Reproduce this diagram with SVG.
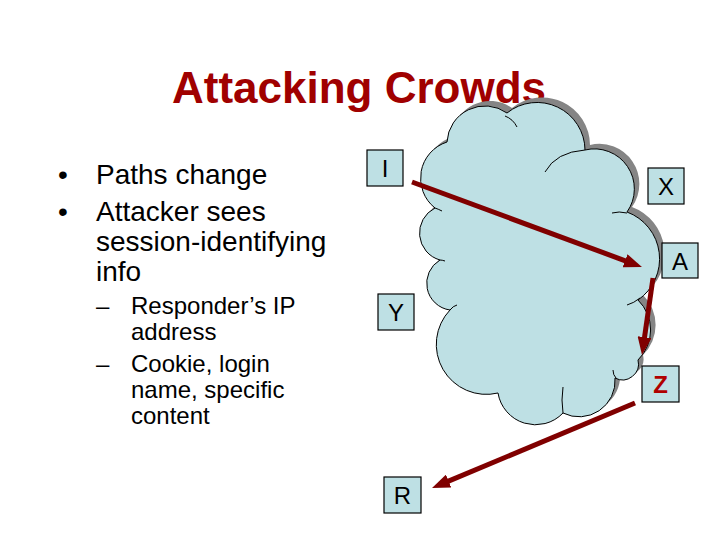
<svg xmlns="http://www.w3.org/2000/svg" width="720" height="540" viewBox="0 0 720 540">
<style>
.t{font-family:"Liberation Sans",Arial,sans-serif;fill:#000}
.main{font-size:28px}
.sub{font-size:24px}
.box{fill:#BEE0E4;stroke:#000;stroke-width:1.2}
.lbl{font-family:"Liberation Sans",Arial,sans-serif;font-size:24px;text-anchor:middle}
.arr{stroke:#800000;stroke-width:5;fill:none}
.inner{fill:none;stroke:#000;stroke-width:1}
</style>
<defs>
<marker id="ah" markerUnits="userSpaceOnUse" markerWidth="18" markerHeight="14" refX="6" refY="7" orient="auto">
<path d="M0,0 L18,7 L0,14 z" fill="#800000"/>
</marker>
<path id="cloudShape" d="M447,142 A38,38 0 0 1 507,113 A48,48 0 0 1 585,150 A40,40 0 0 1 627,212 A50,50 0 0 1 638,300 A42,42 0 0 1 638,360 A16,16 0 0 1 615,378 A36,36 0 0 1 563,413 A38,38 0 0 1 498,393 A50,50 0 0 1 450,310 A27,27 0 0 1 440,260 A28,28 0 0 1 435,208 A38,38 0 0 1 447,142 Z"/>
</defs>
<rect width="720" height="540" fill="#fff"/>
<text x="359" y="103" text-anchor="middle" style="font-family:'Liberation Sans',Arial,sans-serif;font-size:44px;font-weight:bold;fill:#A00000">Attacking Crowds</text>
<g id="bullets">
<text class="t main" x="58" y="184">•</text>
<text class="t main" x="96" y="184">Paths change</text>
<text class="t main" x="58" y="221">•</text>
<text class="t main" x="96" y="221">Attacker sees</text>
<text class="t main" x="96" y="251">session-identifying</text>
<text class="t main" x="96" y="281">info</text>
<text class="t sub" x="96" y="314">–</text>
<text class="t sub" x="131" y="314">Responder’s IP</text>
<text class="t sub" x="131" y="340">address</text>
<text class="t sub" x="96" y="372">–</text>
<text class="t sub" x="131" y="372">Cookie, login</text>
<text class="t sub" x="131" y="398">name, specific</text>
<text class="t sub" x="131" y="424">content</text>
</g>
<g id="cloud">
<use href="#cloudShape" transform="translate(5,-5)" fill="#858585"/>
<use href="#cloudShape" fill="#BEE0E4" stroke="#000" stroke-width="1"/>
<path class="inner" d="M505,116 Q513,119 517,127"/>
<path class="inner" d="M585,150 Q556,152 545,172"/>
<path class="inner" d="M627,213 Q619,211 612,213"/>
<path class="inner" d="M640,298 Q634,303 627,305"/>
<path class="inner" d="M616,378 Q613,375 613,370"/>
<path class="inner" d="M563,413 Q561,400 563,387"/>
<path class="inner" d="M450,310 Q453,306 457,305"/>
<path class="inner" d="M440,260 Q442,260 445,261"/>
<path class="inner" d="M435,208 Q438,209 442,211"/>
</g>
<g id="connectors">
<line class="arr" x1="412" y1="182" x2="630.7" y2="262.8" marker-end="url(#ah)"/>
<line class="arr" x1="653" y1="278" x2="643.7" y2="343.1" marker-end="url(#ah)"/>
<line class="arr" x1="635" y1="403" x2="443.1" y2="483.4" marker-end="url(#ah)"/>
</g>
<g id="node-I"><rect class="box" x="367" y="150" width="36" height="36"/><text class="lbl" x="385" y="177">I</text></g>
<g id="node-X"><rect class="box" x="648" y="168" width="36" height="36"/><text class="lbl" x="666" y="195">X</text></g>
<g id="node-A"><rect class="box" x="662" y="243" width="36" height="35"/><text class="lbl" x="680" y="270">A</text></g>
<g id="node-Y"><rect class="box" x="378" y="294" width="36" height="36"/><text class="lbl" x="396" y="321">Y</text></g>
<g id="node-Z"><rect class="box" x="642" y="366" width="37" height="36"/><text class="lbl" x="660.5" y="393" style="fill:#B00000;font-weight:bold">Z</text></g>
<g id="node-R"><rect class="box" x="384" y="477" width="37" height="36"/><text class="lbl" x="402.5" y="504">R</text></g>
</svg>
